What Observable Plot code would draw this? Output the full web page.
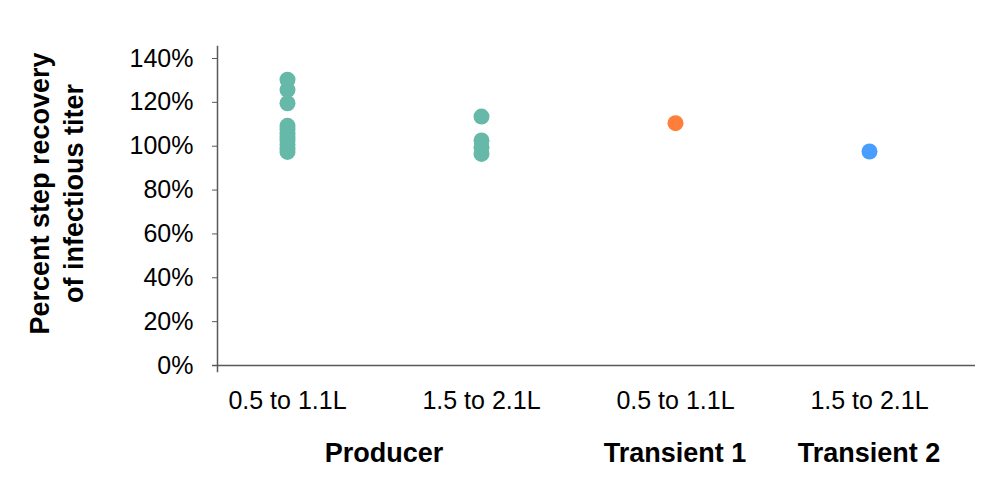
<!DOCTYPE html>
<html><head><meta charset="utf-8">
<script src="https://cdn.jsdelivr.net/npm/d3@7"></script>
<script src="https://cdn.jsdelivr.net/npm/@observablehq/plot@0.6"></script>
<style>body{margin:0;background:#fff}</style>
</head><body><div id="chart"></div>
<script>
const groups = ["Producer", "Producer", "Transient 1", "Transient 2"];
const sizes = ["0.5 to 1.1L", "1.5 to 2.1L", "0.5 to 1.1L", "1.5 to 2.1L"];
const colors = ["#66b9a9", "#66b9a9", "#ff7f3a", "#479eff"];
const producerSmall = [130.3, 125.7, 119.6, 109.3, 107.6, 105.9, 104.2, 102.5, 100.8, 99.1, 97.4];
const producerLarge = [113.5, 102.6, 99.5, 96.5];
const transient1 = [110.5];
const transient2 = [97.6];
const yTicks = [0, 20, 40, 60, 80, 100, 120, 140];
const yLabelLines = ["Percent step recovery", "of infectious titer"];

const keys = groups.map((g, i) => g + "|" + sizes[i]);
const series = [producerSmall, producerLarge, transient1, transient2];
const data = series.flatMap((vals, i) => vals.map(v => ({key: keys[i], value: v})));
const uniqueGroups = [...new Set(groups)];
const font = "'Liberation Sans', Arial, sans-serif";

const groupLabels = (index, scales, values, dimensions) => {
  const g = d3.create("svg:g")
    .attr("font-family", font).attr("font-size", 27).attr("font-weight", "bold")
    .attr("text-anchor", "middle").attr("fill", "#000");
  uniqueGroups.forEach(gr => {
    const xs = keys.filter((k, i) => groups[i] === gr).map(k => scales.x(k));
    g.append("text").attr("x", d3.mean(xs)).attr("y", dimensions.height - 29).text(gr);
  });
  return g.node();
};

const yTitle = (index, scales, values, dimensions) => {
  const cy = (scales.y(0) + scales.y(140)) / 2 - 18;
  const g = d3.create("svg:g")
    .attr("transform", `translate(57,${cy}) rotate(-90)`)
    .attr("font-family", font).attr("font-size", 27).attr("font-weight", "bold")
    .attr("text-anchor", "middle").attr("fill", "#000");
  yLabelLines.forEach((line, i) => {
    g.append("text").attr("x", 0).attr("y", (i - 0.5) * 34).attr("dy", "0.35em").text(line);
  });
  return g.node();
};

const plot = Plot.plot({
  width: 992, height: 491,
  marginLeft: 217, marginRight: 17, marginTop: 46, marginBottom: 120,
  style: {fontFamily: font, background: "#fff", overflow: "visible"},
  x: {type: "point", domain: keys, padding: 0, insetLeft: 70, insetRight: 106},
  y: {domain: [0, 140], range: [365, 58]},
  color: {domain: keys, range: colors},
  marks: [
    Plot.frame({anchor: "left", stroke: "#595959", strokeWidth: 1.5}),
    Plot.ruleY([0], {stroke: "#595959", strokeWidth: 1.5, insetLeft: -5}),
    Plot.axisY(yTicks, {tickFormat: d => d + "%", tickSize: 5, tickPadding: 19, fontSize: 25, stroke: "#595959", fill: "#000", label: null}),
    Plot.axisX({tickSize: 0, tickPadding: 20, tickFormat: d => d.split("|")[1], fontSize: 25, fill: "#000", label: null}),
    Plot.dot(data, {x: "key", y: "value", r: 8, fill: "key", stroke: null}),
    yTitle,
    groupLabels
  ]
});
document.getElementById("chart").appendChild(plot);
</script>
</body></html>
